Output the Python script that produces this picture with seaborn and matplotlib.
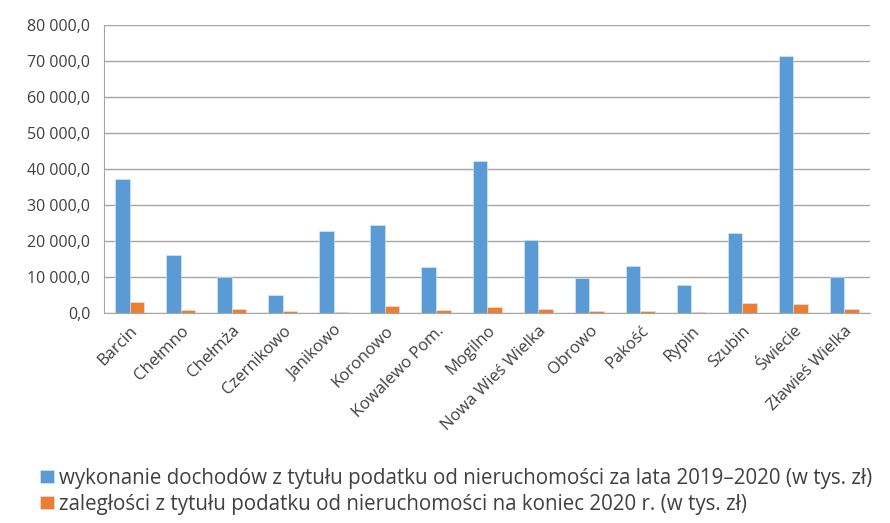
import pandas as pd
import matplotlib.pyplot as plt
import seaborn as sns
from matplotlib.ticker import FuncFormatter, MultipleLocator, FixedLocator

# dane - gminy i wartosci (tys. zl)
gminy = ['Barcin', 'Chełmno', 'Chełmża', 'Czernikowo', 'Janikowo', 'Koronowo',
         'Kowalewo Pom.', 'Mogilno', 'Nowa Wieś Wielka', 'Obrowo', 'Pakość',
         'Rypin', 'Szubin', 'Świecie', 'Zławieś Wielka']
wykonanie = [37300, 16100, 10000, 4900, 22900, 24400, 12800, 42200, 20300,
             9700, 13100, 7900, 22300, 71500, 10000]
zaleglosci = [3150, 850, 1200, 650, 400, 1950, 750, 1750, 1000,
              650, 450, 200, 2700, 2600, 1200]
serie = ['wykonanie dochodów z tytułu podatku od nieruchomości za lata 2019–2020 (w tys. zł)',
         'zaległości z tytułu podatku od nieruchomości na koniec 2020 r. (w tys. zł)']

df = pd.DataFrame({
    'gmina': gminy * 2,
    'wartosc': wykonanie + zaleglosci,
    'seria': [serie[0]] * len(gminy) + [serie[1]] * len(gminy),
})

sns.set_style('white')
plt.rcParams['font.family'] = ['Open Sans', 'DejaVu Sans']
txt = '#404040'

fig = plt.figure(figsize=(8.9, 5.23), dpi=100)
ax = fig.add_axes([0.117, 0.4015, 0.8605, 0.5505])

sns.barplot(data=df, x='gmina', y='wartosc', hue='seria',
            palette=['#5B9BD5', '#ED7D31'], saturation=1, width=0.57, gap=0,
            edgecolor='#DDEBF7', linewidth=0.4, ax=ax)

ax.set_ylim(0, 80000)
ax.set_xlim(-0.5, len(gminy) - 0.5)
ax.yaxis.set_major_locator(MultipleLocator(10000))
ax.yaxis.set_major_formatter(FuncFormatter(
    lambda v, p: f'{v:,.1f}'.replace(',', ' ').replace('.', ',')))
ax.grid(axis='y', color='#A6A6A6', linewidth=1.0)
ax.set_axisbelow(True)
for s in ['top', 'right']:
    ax.spines[s].set_visible(False)
ax.spines['left'].set_color('#A6A6A6')
ax.spines['bottom'].set_color('#A6A6A6')

ax.tick_params(axis='y', which='major', length=6, color='#A6A6A6',
               labelsize=11.5, labelcolor=txt, pad=4)
ax.set_xticks(range(len(gminy)))
ax.set_xticklabels(gminy, rotation=45, ha='right', rotation_mode='anchor',
                   fontsize=12, color=txt)
ax.tick_params(axis='x', which='major', length=0, pad=7)
ax.xaxis.set_minor_locator(FixedLocator([i + 0.5 for i in range(-1, len(gminy))]))
ax.tick_params(axis='x', which='minor', length=6, color='#A6A6A6')
ax.set_xlabel('')
ax.set_ylabel('')

h, l = ax.get_legend_handles_labels()
ax.legend_.remove()
fig.legend(h, l, loc='lower left', bbox_to_anchor=(0.036, 0.0),
           frameon=False, fontsize=14.8, labelcolor=txt,
           handlelength=0.65, handleheight=0.65, handletextpad=0.25,
           labelspacing=0.25, borderaxespad=0)

fig.savefig('out.png', dpi=100)
